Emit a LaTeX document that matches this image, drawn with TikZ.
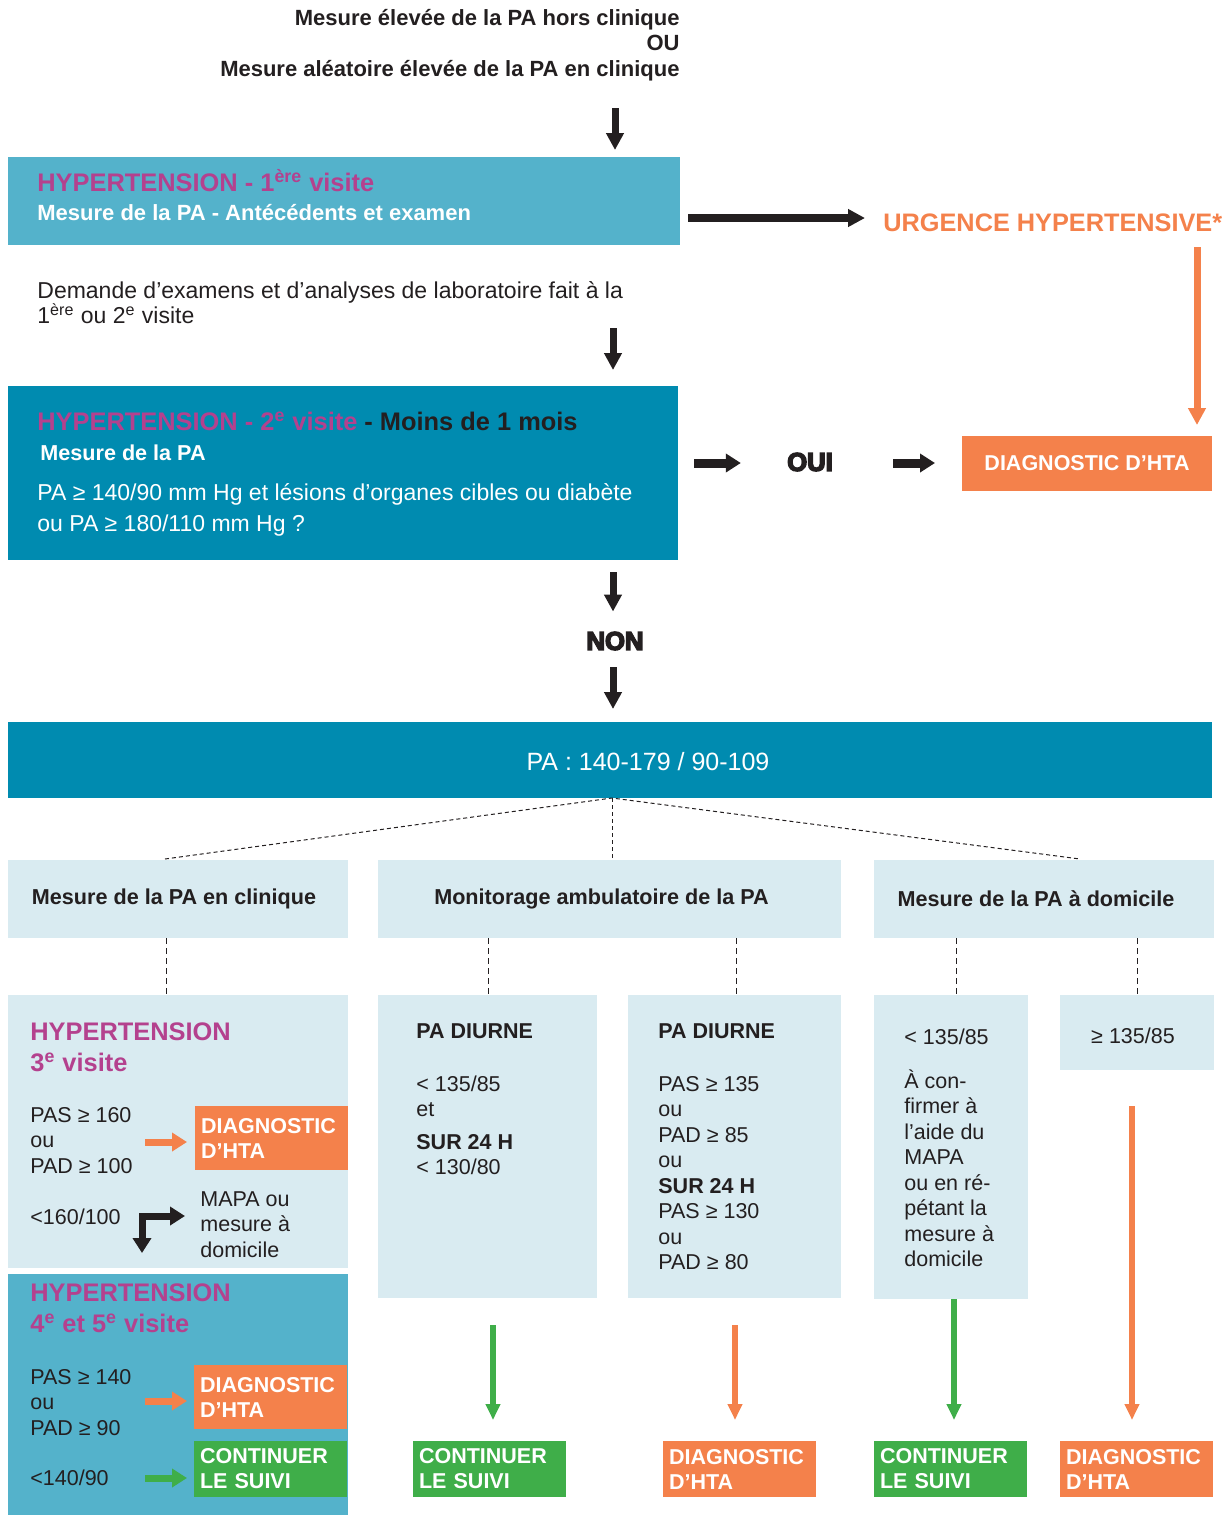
\documentclass[tikz,border=0pt]{standalone}
\usepackage{fontspec}
\setmainfont{Liberation Sans}
\newfontfamily\heavyfont[BoldFeatures={FakeBold=6}]{Liberation Sans}
\usetikzlibrary{arrows.meta,positioning}
\setlength{\lineskiplimit}{-20pt}
\definecolor{hcyan}{HTML}{54B2CB}
\definecolor{hteal}{HTML}{008BB0}
\definecolor{hmag}{HTML}{B4418E}
\definecolor{horange}{HTML}{F4814B}
\definecolor{hgreen}{HTML}{3FAE49}
\definecolor{hpale}{HTML}{D9EBF1}
\definecolor{hink}{HTML}{231F20}
\tikzset{%
  tipA/.tip={Triangle[width=8.5pt,length=8.5pt]},
  tipB/.tip={Triangle[width=9pt,length=7.5pt]},
  tipC/.tip={Triangle[width=7pt,length=8pt]},
  panel/.style={anchor=north west, inner sep=0pt, outer sep=0pt},
  body/.style={inner sep=0pt, text=hink, font=\fontsize{10.75}{12.75}\selectfont},
  boldtxt/.style={body, font=\bfseries\fontsize{10.75}{12.75}\selectfont},
  title/.style={body, text=hmag, font=\bfseries\fontsize{12.7}{15.5}\selectfont},
  heavy/.style={inner sep=0pt, text=hink, font=\heavyfont\bfseries\fontsize{12.8}{14}\selectfont},
  header/.style={panel, fill=hpale, minimum height=39pt, text=hink, font=\bfseries\fontsize{10.8}{13}\selectfont},
  result/.style={panel, fill=horange, text=white, font=\bfseries\fontsize{10.75}{12.5}\selectfont, align=left, text width=70.5pt, inner xsep=3pt, minimum width=76.5pt, minimum height=28pt},
  dashA/.style={hink, line width=0.5pt, dash pattern=on 2pt off 1.5pt},
  dashB/.style={hink, line width=0.5pt, dash pattern=on 3pt off 2pt},
  karrow/.style={hink, line width=3.5pt, -tipA},
  oarrow/.style={horange, line width=3.5pt, -tipA},
  sarrow/.style={line width=3.5pt, -tipB},
  larrow/.style={line width=3pt, -tipC}
}

\begin{document}
\begin{tikzpicture}[x=0.5pt,y=-0.5pt]
\useasboundingbox (0,0) rectangle (1231,1517);

% entree
\node[body, font=\bfseries\fontsize{11}{12.75}\selectfont, align=right, anchor=north east] (start) at (680,7) {\strut Mesure élevée de la PA hors clinique\\OU\\Mesure aléatoire élevée de la PA en clinique};

% 1re visite
\node[panel, fill=hcyan, minimum width=336pt, minimum height=44pt] (visit1) at (8,157) {};
\node[title, anchor=base west] (v1title) at (37,191) {HYPERTENSION - 1\textsuperscript{ère} visite};
\node[body, anchor=base west, text=white, font=\bfseries\fontsize{11}{13}\selectfont] (v1sub) at (37,220) {Mesure de la PA - Antécédents et examen};
\node[body, anchor=base west, text=horange, font=\bfseries\fontsize{12.65}{15}\selectfont] (urgence) at (883,231) {URGENCE HYPERTENSIVE*};
\node[body, anchor=north west, align=left, font=\fontsize{11.5}{12.5}\selectfont] (exams) at (37,281) {\strut Demande d’examens et d’analyses de laboratoire fait à la\\1\textsuperscript{ère} ou 2\textsuperscript{e} visite};

% 2e visite
\node[panel, fill=hteal, minimum width=335pt, minimum height=87pt] (visit2) at (8,386) {};
\node[title, anchor=base west, text=hink] (v2title) at (37,430) {\textcolor{hmag}{HYPERTENSION - 2\textsuperscript{e} visite} - Moins de 1 mois};
\node[body, anchor=base west, text=white, font=\bfseries\fontsize{10.8}{13}\selectfont] (v2sub) at (40,460) {Mesure de la PA};
\node[body, anchor=north west, align=left, text=white, font=\fontsize{11.5}{15.5}\selectfont] (v2crit) at (37,478.5) {\strut PA ≥ 140/90 mm Hg et lésions d’organes cibles ou diabète\\ou PA ≥ 180/110 mm Hg ?};
\node[heavy] (oui) at (810,462) {OUI};
\node[panel, fill=horange, minimum width=125pt, minimum height=27.5pt, text=white, font=\bfseries\fontsize{10.75}{13}\selectfont] (diag0) at (962,436) {DIAGNOSTIC D’HTA};
\node[heavy] (non) at (615,641) {NON};

% PA
\node[panel, fill=hteal, minimum width=602pt, minimum height=38pt] (pa) at (8,722) {};
\node[body, text=white, font=\fontsize{12.5}{15}\selectfont] (paT) at (648,762) {PA : 140-179 / 90-109};

% trois approches
\node[header, minimum width=170pt] (clin) at (8,860) {Mesure de la PA en clinique\hspace*{4pt}};
\node[header, minimum width=231.5pt] (ambu) at (378,860) {Monitorage ambulatoire de la PA\hspace*{8pt}};
\node[header, minimum width=170pt] (domi) at (874,860) {Mesure de la PA à domicile\hspace*{8pt}};

% clinique
\node[panel, fill=hpale, minimum width=170pt, minimum height=136.5pt] (visit3) at (8,995) {};
\node[title, anchor=north west, align=left] (v3title) at (30,1018.3) {\strut HYPERTENSION\\3\textsuperscript{e} visite};
\node[body, anchor=north west, align=left] (v3hi) at (30,1104) {\strut PAS ≥ 160\\ou\\PAD ≥ 100};
\node[result, minimum height=32pt] (diag1) at (195,1106) {DIAGNOSTIC\\D’HTA};
\node[body, anchor=base west] (v3lo) at (30,1224.7) {<160/100};
\node[body, anchor=north west, align=left] (v3next) at (200,1188) {\strut MAPA ou\\mesure à\\domicile};

\node[panel, fill=hcyan, minimum width=170pt, minimum height=120.5pt] (visit4) at (8,1274) {};
\node[title, anchor=north west, align=left] (v4title) at (30,1279.3) {\strut HYPERTENSION\\4\textsuperscript{e} et 5\textsuperscript{e} visite};
\node[body, anchor=north west, align=left] (v4hi) at (30,1366) {\strut PAS ≥ 140\\ou\\PAD ≥ 90};
\node[result, minimum height=32pt] (diag2) at (194,1365) {DIAGNOSTIC\\D’HTA};
\node[body, anchor=base west] (v4lo) at (30,1485.7) {<140/90};
\node[result, fill=hgreen] (cont0) at (194,1441) {CONTINUER\\LE SUIVI};

% MAPA
\node[panel, fill=hpale, minimum width=109.5pt, minimum height=151.5pt] (ambulo) at (378,995) {};
\node[boldtxt, anchor=base west] (ambuloT) at (416,1038.7) {PA DIURNE};
\node[body, anchor=north west, align=left] (ambuloX) at (416,1073) {\strut < 135/85\\et\\[3.5pt]\textbf{SUR 24 H}\\< 130/80};
\node[panel, fill=hpale, minimum width=106.5pt, minimum height=151.5pt] (ambuhi) at (628,995) {};
\node[boldtxt, anchor=base west] (ambuhiT) at (658,1038.7) {PA DIURNE};
\node[body, anchor=north west, align=left] (ambuhiX) at (658,1073) {\strut PAS ≥ 135\\ou\\PAD ≥ 85\\ou\\\textbf{SUR 24 H}\\PAS ≥ 130\\ou\\PAD ≥ 80};

% domicile
\node[panel, fill=hpale, minimum width=77pt, minimum height=152pt] (domilo) at (874,995) {};
\node[body, anchor=north west, align=left] (domiloX) at (904,1026) {\strut < 135/85\\[9.25pt]À con-\\firmer à\\l’aide du\\MAPA\\ou en ré-\\pétant la\\mesure à\\domicile};
\node[panel, fill=hpale, minimum width=77pt, minimum height=37.5pt] (domihi) at (1060,995) {};
\node[body, anchor=base] (domihiX) at (1133,1043.7) {≥ 135/85};

% issues
\node[result, fill=hgreen] (cont1) at (413,1441) {CONTINUER\\LE SUIVI};
\node[result] (diag3) at (663,1441) {DIAGNOSTIC\\D’HTA};
\node[result, fill=hgreen] (cont2) at (874,1441) {CONTINUER\\LE SUIVI};
\node[result] (diag4) at (1060,1441) {DIAGNOSTIC\\D’HTA};

% fleches noires
\coordinate (k0) at (615,108);
\coordinate (k1) at (688,218);
\coordinate (k2) at (613,328);
\coordinate (k3) at (694,463);
\coordinate (k4) at (893,463);
\coordinate (k5) at (613,572);
\coordinate (k6) at (613,667);
\draw[karrow, shorten >=3.5pt] (k0) -- (k0 |- visit1.north);
\draw[karrow, line width=4pt, shorten >=9pt] (k1) -- (k1 -| urgence.west);
\draw[karrow, shorten >=8pt] (k2) -- (k2 |- visit2.north);
\draw[hink, line width=4.5pt, -tipB, shorten >=23pt] (k3) -- (k3 -| oui.west);
\draw[hink, line width=4.5pt, -tipB, shorten >=13.5pt] (k4) -- (k4 -| diag0.west);
\draw[karrow, shorten >=10pt] (k5) -- (k5 |- non.north);
\draw[karrow, shorten >=6.5pt] (k6) -- (k6 |- pa.north);

% fleche orange urgence
\coordinate (o0) at (1197,247);
\draw[oarrow, shorten >=5.5pt] (o0) -- (o0 |- diag0.north);

% pointilles
\coordinate (dl) at (165,859);
\coordinate (dr) at (1080,859);
\coordinate (dm) at (612,798);
\draw[dashA] (dl) -- (dm) -- (dr);
\draw[dashA] (dm) -- (dm |- ambu.north);
\coordinate (x1) at (166,0);
\coordinate (x2) at (488,0);
\coordinate (x3) at (736,0);
\coordinate (x4) at (956,0);
\coordinate (x5) at (1137,0);
\draw[dashB] (clin.south -| x1) -- (visit3.north -| x1);
\draw[dashB] (ambu.south -| x2) -- (ambulo.north -| x2);
\draw[dashB] (ambu.south -| x3) -- (ambuhi.north -| x3);
\draw[dashB] (domi.south -| x4) -- (domilo.north -| x4);
\draw[dashB] (domi.south -| x5) -- (domihi.north -| x5);

% fleches clinique
\coordinate (c0) at (145,1142);
\coordinate (c1) at (145,1401);
\coordinate (c2) at (145,1478);
\draw[sarrow, horange, shorten >=4pt] (c0) -- (c0 -| diag1.west);
\draw[sarrow, horange, shorten >=3.5pt] (c1) -- (c1 -| diag2.west);
\draw[sarrow, hgreen, shorten >=3.5pt] (c2) -- (c2 -| cont0.west);
\coordinate (e0) at (142,1253);
\coordinate (e1) at (185,1216);
\draw[hink, line width=3.5pt, tipB-tipB] (e0) |- (e1);

% fleches issues
\coordinate (r1) at (493,1325);
\coordinate (r2) at (735,1325);
\coordinate (r3) at (954,0);
\coordinate (r4) at (1132,1106);
\draw[larrow, hgreen, shorten >=10.5pt] (r1) -- (r1 |- cont1.north);
\draw[larrow, horange, shorten >=10.5pt] (r2) -- (r2 |- diag3.north);
\draw[larrow, hgreen, shorten >=10.5pt] (domilo.south -| r3) -- (cont2.north -| r3);
\draw[larrow, horange, shorten >=10.5pt] (r4) -- (r4 |- diag4.north);
\end{tikzpicture}
\end{document}
